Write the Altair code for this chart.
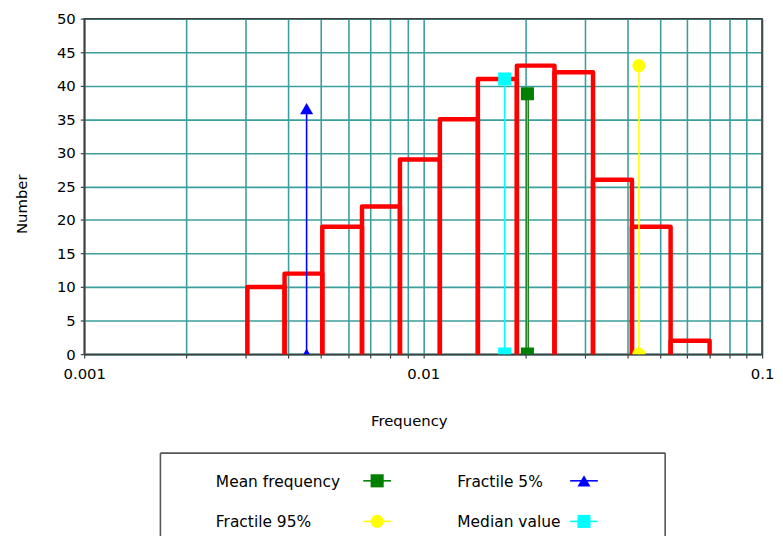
import altair as alt
import pandas as pd

# ---------------- data ----------------
bin_edges = [0.00303, 0.0039, 0.00504, 0.0066, 0.00854, 0.0112, 0.0145,
             0.0189, 0.0244, 0.0317, 0.0413, 0.0537, 0.0700]
counts = [10, 12, 19, 22, 29, 35, 41, 43, 42, 26, 19, 2]

stat_names = ["Mean frequency", "Fractile 5%", "Fractile 95%", "Median value"]
stat_x = [0.0203, 0.00453, 0.0433, 0.0174]
stat_top = [38.8, 36.6, 43.0, 41.0]
stat_colors = ["#008000", "#0000ff", "#ffff00", "#00ffff"]
stat_shapes = ["square", "triangle-up", "circle", "square"]

x_ticks = [0.001, 0.002, 0.003, 0.004, 0.005, 0.006, 0.007, 0.008, 0.009,
           0.01, 0.02, 0.03, 0.04, 0.05, 0.06, 0.07, 0.08, 0.09, 0.1]
x_labels = ["0.001", "0.01", "0.1"]
y_ticks = [0, 5, 10, 15, 20, 25, 30, 35, 40, 45, 50]

# ---------------- tables ----------------
rows = []
for i, h in enumerate(counts):
    e0, e1 = bin_edges[i], bin_edges[i + 1]
    for k, (xv, yv) in enumerate([(e0, 0), (e0, h), (e1, h), (e1, 0)]):
        rows.append({"bar": i, "k": k, "x": xv, "y": yv})
hist_df = pd.DataFrame(rows)

stats_df = pd.DataFrame({"name": stat_names, "x": stat_x, "top": stat_top,
                         "zero": [0] * len(stat_names)})

# ---------------- layout / style ----------------
W, H = 685, 339
FONT = "DejaVu Sans"
GRID = "#3d9e9e"
DARK = "#404040"

xscale = alt.Scale(type="log", domain=[0.001, 0.1], nice=False)
yscale = alt.Scale(domain=[0, 50], nice=False, zero=True)

label_list = ",".join("'" + s + "'" for s in x_labels)
xaxis = alt.Axis(
    values=x_ticks, format=".3~f",
    labelExpr="indexof([" + label_list + "], datum.label) >= 0 ? datum.label : ''",
    labelOverlap=False, labelFlush=False, labelBaseline="alphabetic",
    labelPadding=21, tickSize=4, title="Frequency",
    titleX=328, titleY=72, titleBaseline="alphabetic", titleAlign="center",
)
yaxis = alt.Axis(
    values=y_ticks, tickSize=4, labelPadding=5, title="Number",
    titleX=-58, titleY=187, titleAngle=270, titleBaseline="alphabetic",
    titleAlign="center",
)


def X(field):
    return alt.X(field, type="quantitative", scale=xscale, axis=xaxis)


def Y(field):
    return alt.Y(field, type="quantitative", scale=yscale, axis=yaxis)


color_scale = alt.Scale(domain=stat_names, range=stat_colors)
shape_scale = alt.Scale(domain=stat_names, range=stat_shapes)

hist = alt.Chart(hist_df).mark_line(
    color="#ff0000", strokeWidth=4.5, strokeJoin="round", strokeCap="butt"
).encode(x=X("x"), y=Y("y"), detail="bar:N", order="k:Q")

stat_rules = alt.Chart(stats_df).transform_filter(
    "datum.name != 'Mean frequency'"
).mark_rule(strokeWidth=1.6).encode(
    x=X("x"), y=Y("zero"), y2="top",
    color=alt.Color("name:N", scale=color_scale, legend=None),
)
mean_rule = alt.Chart(stats_df).transform_filter(
    "datum.name == 'Mean frequency'"
).mark_rule(strokeWidth=3.2, color="#1f7f1f").encode(x=X("x"), y=Y("zero"), y2="top")
mean_rule_in = alt.Chart(stats_df).transform_filter(
    "datum.name == 'Mean frequency'"
).mark_rule(strokeWidth=1, color="#8fc88f").encode(x=X("x"), y=Y("zero"), y2="top")

pt_top = alt.Chart(stats_df).mark_point(filled=True, size=175, opacity=1, clip=True).encode(
    x=X("x"), y=Y("top"),
    color=alt.Color("name:N", scale=color_scale, legend=None),
    shape=alt.Shape("name:N", scale=shape_scale, legend=None),
)
pt_bot = alt.Chart(stats_df).mark_point(filled=True, size=175, opacity=1, clip=True).encode(
    x=X("x"), y=Y("zero"),
    color=alt.Color("name:N", scale=color_scale, legend=None),
    shape=alt.Shape("name:N", scale=shape_scale, legend=None),
)

one = pd.DataFrame({"a": [0]})
frame_top = alt.Chart(one).mark_rule(color=DARK, strokeWidth=1.5).encode(
    x=alt.value(0), x2=alt.value(W), y=alt.value(0))
frame_right = alt.Chart(one).mark_rule(color=DARK, strokeWidth=1.5).encode(
    x=alt.value(W), y=alt.value(0), y2=alt.value(H))

# ---------------- manual legend (box + items) ----------------
BOX_L, BOX_R, BOX_T, BOX_B = 77, 587, 439, 620
legend_layers = [
    alt.Chart(one).mark_rule(color="#555555", strokeWidth=1.6).encode(
        x=alt.value(BOX_L), x2=alt.value(BOX_R), y=alt.value(BOX_T)),
    alt.Chart(one).mark_rule(color="#555555", strokeWidth=1.6).encode(
        x=alt.value(BOX_L), y=alt.value(BOX_T), y2=alt.value(BOX_B)),
    alt.Chart(one).mark_rule(color="#555555", strokeWidth=1.6).encode(
        x=alt.value(BOX_R), y=alt.value(BOX_T), y2=alt.value(BOX_B)),
]
legend_pos = [(133, 468, 296), (377, 468, 505), (133, 509, 296), (377, 509, 505)]
for (tx, ty, sx), name, col, shp in zip(legend_pos, stat_names, stat_colors, stat_shapes):
    legend_layers.append(
        alt.Chart(one).mark_text(text=name, align="left", baseline="middle",
                                 font=FONT, fontSize=15.6, color="#000000").encode(
            x=alt.value(tx), y=alt.value(ty)))
    legend_layers.append(
        alt.Chart(one).mark_rule(color=col, strokeWidth=1.6).encode(
            x=alt.value(sx - 14), x2=alt.value(sx + 14), y=alt.value(ty - 1)))
    legend_layers.append(
        alt.Chart(one).mark_point(shape=shp, filled=True, size=175, color=col, opacity=1).encode(
            x=alt.value(sx), y=alt.value(ty - 1)))

chart = alt.layer(
    hist, stat_rules, mean_rule, mean_rule_in, pt_top, pt_bot,
    frame_top, frame_right, *legend_layers
).properties(
    width=W, height=H,
    padding={"left": 77, "top": 8, "right": 13, "bottom": 181},
    autosize=alt.AutoSizeParams(type="none"),
    background="#ffffff",
).configure_view(
    stroke=DARK, strokeWidth=1.5
).configure_axis(
    grid=True, gridColor=GRID, gridWidth=1.6, gridOpacity=1,
    domainColor=DARK, domainWidth=1.5, tickColor=DARK, tickWidth=1.2,
    labelFont=FONT, labelFontSize=15, labelColor="#000000",
    titleFont=FONT, titleFontSize=15, titleFontWeight="normal", titleColor="#000000",
)

chart.save("out.html", embed_options={"renderer": "svg", "actions": False})
